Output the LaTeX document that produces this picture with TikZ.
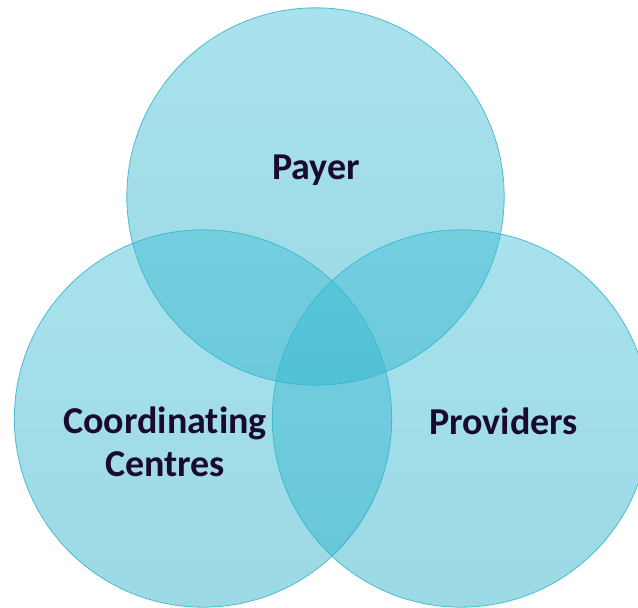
\documentclass[tikz,border=0pt]{standalone}
\usepackage{fontspec}
\setmainfont[Ligatures=NoCommon]{Carlito}

\definecolor{vennTop}{RGB}{62,190,214}
\definecolor{vennBot}{RGB}{34,172,198}
\definecolor{vennEdge}{RGB}{60,182,205}
\definecolor{labelInk}{RGB}{26,10,46}

\tikzstyle{set} = [circle, minimum size=283pt, inner sep=0pt, draw=vennEdge, line width=0.6pt, top color=vennTop, bottom color=vennBot, fill opacity=0.45, draw opacity=0.9]
\tikzstyle{setname} = [text=labelInk, font=\bfseries\fontsize{28.5}{32}\selectfont, align=center]

\begin{document}
\begin{tikzpicture}[x=0.75pt, y=-0.75pt]
\useasboundingbox (0,0) rectangle (638,607);
\clip (0,0) rectangle (638,607);

\node (payer) [set] at (315.5,196.5) {};
\node (coord) [set] at (203,418.5) {};
\node (prov) [set] at (461,418.5) {};

\node (payerlbl) [setname] at (316,170) {Payer};
\node (coordlbl) [setname] at (165,442) {Coordinating\\Centres};
\node (provlbl) [setname] at (503.5,421) {Providers};

\end{tikzpicture}
\end{document}
